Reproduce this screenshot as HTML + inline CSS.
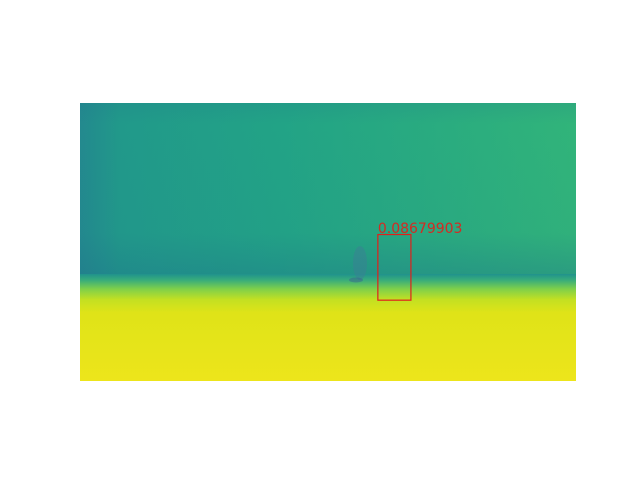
<!DOCTYPE html>
<html><head><meta charset="utf-8">
<style>
html,body{margin:0;padding:0;background:#fff;width:640px;height:480px;overflow:hidden}
svg{display:block}
</style></head>
<body>
<svg id="chart" width="640" height="480" viewBox="0 0 640 480">
<defs>
<linearGradient id="wallH" x1="0" y1="0" x2="1" y2="0">
<stop offset="0" stop-color="#23898e"/>
<stop offset="0.08" stop-color="#21998a"/>
<stop offset="0.4" stop-color="#22a386"/>
<stop offset="0.7" stop-color="#29ab80"/>
<stop offset="1" stop-color="#31b47a"/>
</linearGradient>
<linearGradient id="wallV" x1="0" y1="0" x2="0" y2="1">
<stop offset="0" stop-color="#1f6f8b" stop-opacity="0.15"/>
<stop offset="0.12" stop-color="#1f6f8b" stop-opacity="0"/>
<stop offset="0.75" stop-color="#1f6f8b" stop-opacity="0.05"/>
<stop offset="1" stop-color="#1f6f8b" stop-opacity="0.35"/>
</linearGradient>
<linearGradient id="floorV" x1="0" y1="0" x2="0" y2="1">
<stop offset="0" stop-color="#20928c"/>
<stop offset="0.06" stop-color="#3aae7a"/>
<stop offset="0.14" stop-color="#7fd04a"/>
<stop offset="0.24" stop-color="#c3e022"/>
<stop offset="0.36" stop-color="#dfe318"/>
<stop offset="1" stop-color="#ede51b"/>
</linearGradient>
</defs>
<g id="image">
<rect x="80" y="103" width="496" height="173" fill="url(#wallH)"/>
<rect x="80" y="103" width="496" height="173" fill="url(#wallV)"/>
<rect x="80" y="274" width="496" height="107" fill="url(#floorV)"/>
<ellipse cx="360" cy="263" rx="7" ry="17" fill="#3d7c96" opacity="0.45"/>
<ellipse cx="356" cy="280" rx="7" ry="2.5" fill="#3a5a90" opacity="0.45"/>
</g>
<g id="boxes"></g>
</svg>
<script>
const imgW = 1920, imgH = 1080;
const boxX = [1153];
const boxY = [511];
const boxW = [128];
const boxH = [255];
const scores = ["0.08679903"];

const ox = 80, oy = 103, dw = 496, dh = 278;
function sx(v){ return ox + v / imgW * dw; }
function sy(v){ return oy + v / imgH * dh; }
const NS = "http://www.w3.org/2000/svg";
const g = document.getElementById("boxes");
for (let i = 0; i < boxX.length; i++) {
  const r = document.createElementNS(NS, "rect");
  r.setAttribute("x", sx(boxX[i]));
  r.setAttribute("y", sy(boxY[i]));
  r.setAttribute("width", sx(boxX[i] + boxW[i]) - sx(boxX[i]));
  r.setAttribute("height", sy(boxY[i] + boxH[i]) - sy(boxY[i]));
  r.setAttribute("fill", "none");
  r.setAttribute("stroke", "#e0201a");
  r.setAttribute("stroke-width", "1.2");
  
  
  g.appendChild(r);
  const t = document.createElementNS(NS, "text");
  t.setAttribute("x", sx(boxX[i]));
  t.setAttribute("y", sy(boxY[i]) - 1.5);
  t.setAttribute("fill", "#d42a22");
  t.setAttribute("font-family", "DejaVu Sans, Liberation Sans, sans-serif");
  t.setAttribute("font-size", "14");
  t.textContent = scores[i];
  
  
  g.appendChild(t);
}
</script>
</body></html>
